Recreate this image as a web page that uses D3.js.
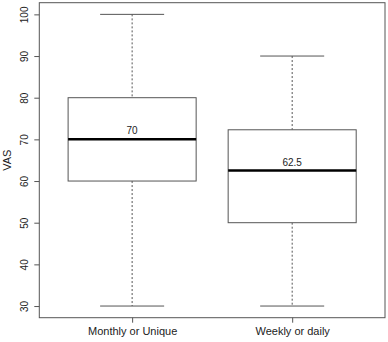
<!DOCTYPE html>
<html>
<head>
<meta charset="utf-8">
<script src="https://cdn.jsdelivr.net/npm/d3@7"></script>
<style>
  body { margin: 0; background: #fff; }
  text { font-family: "Liberation Sans", Arial, sans-serif; fill: #222; }
</style>
</head>
<body>
<svg id="chart"></svg>
<script>
// box plot summaries
const groups = ["Monthly or Unique", "Weekly or daily"];
const lowerWhisker = [30, 30];
const q1 = [60, 50];
const medians = [70, 62.5];
const q3 = [80, 72.3];
const upperWhisker = [100, 90];
const medianLabels = ["70", "62.5"];
const yTicks = [30, 40, 50, 60, 70, 80, 90, 100];

const width = 388, height = 342;
const margin = { top: 2.7, right: 3, bottom: 24.3, left: 39.3 };

const svg = d3.select("#chart").attr("width", width).attr("height", height);

// R-style extended domains
const x = d3.scaleLinear()
  .domain([0.42, 2.58])
  .range([margin.left, width - margin.right]);

const y = d3.scaleLinear()
  .domain([27.2, 102.8])
  .range([height - margin.bottom, margin.top]);

const lineCol = "#555";
const boxHalf = 0.4; // in x units
const capHalf = 0.2;

const data = groups.map((g, i) => ({
  name: g, pos: i + 1,
  lo: lowerWhisker[i], q1: q1[i], med: medians[i], q3: q3[i], hi: upperWhisker[i],
  label: medianLabels[i]
}));

const boxes = svg.append("g").selectAll("g").data(data).join("g");

// whiskers (dashed)
boxes.append("line")
  .attr("x1", d => x(d.pos)).attr("x2", d => x(d.pos))
  .attr("y1", d => y(d.hi)).attr("y2", d => y(d.q3))
  .attr("stroke", lineCol).attr("stroke-dasharray", "2,2");
boxes.append("line")
  .attr("x1", d => x(d.pos)).attr("x2", d => x(d.pos))
  .attr("y1", d => y(d.q1)).attr("y2", d => y(d.lo))
  .attr("stroke", lineCol).attr("stroke-dasharray", "2,2");

// caps
boxes.selectAll(".cap").data(d => [[d.pos, d.hi], [d.pos, d.lo]]).join("line")
  .attr("x1", d => x(d[0] - capHalf)).attr("x2", d => x(d[0] + capHalf))
  .attr("y1", d => y(d[1])).attr("y2", d => y(d[1]))
  .attr("stroke", lineCol);

// box
boxes.append("rect")
  .attr("x", d => x(d.pos - boxHalf))
  .attr("width", d => x(d.pos + boxHalf) - x(d.pos - boxHalf))
  .attr("y", d => y(d.q3))
  .attr("height", d => y(d.q1) - y(d.q3))
  .attr("fill", "white").attr("stroke", lineCol);

// median
boxes.append("line")
  .attr("x1", d => x(d.pos - boxHalf)).attr("x2", d => x(d.pos + boxHalf))
  .attr("y1", d => y(d.med)).attr("y2", d => y(d.med))
  .attr("stroke", "#000").attr("stroke-width", 2.5);

boxes.append("text")
  .attr("x", d => x(d.pos))
  .attr("y", d => y(d.med) - 5)
  .attr("text-anchor", "middle")
  .style("font-size", "10px")
  .text(d => d.label);

// frame
svg.append("rect")
  .attr("x", margin.left).attr("y", margin.top)
  .attr("width", width - margin.right - margin.left)
  .attr("height", height - margin.bottom - margin.top)
  .attr("fill", "none").attr("stroke", lineCol);

// left axis
const yAxis = svg.append("g")
  .attr("transform", `translate(${margin.left},0)`)
  .call(d3.axisLeft(y).tickValues(yTicks).tickSize(5).tickPadding(3));
yAxis.select(".domain").remove();
yAxis.selectAll("line").attr("stroke", lineCol);
yAxis.selectAll("text")
  .style("font-size", "10px")
  .style("font-family", "Liberation Sans, Arial, sans-serif")
  .attr("fill", "#222")
  .attr("transform", "rotate(-90)")
  .attr("x", 0).attr("y", 0)
  .attr("dy", null)
  .attr("text-anchor", "middle")
  .attr("transform", "translate(-11,0) rotate(-90)");

// bottom axis
const xAxis = svg.append("g")
  .attr("transform", `translate(0,${height - margin.bottom})`)
  .call(d3.axisBottom(x).tickValues([1, 2]).tickSize(5).tickPadding(5)
    .tickFormat(d => groups[d - 1]));
xAxis.select(".domain").remove();
xAxis.selectAll("line").attr("stroke", lineCol);
xAxis.selectAll("text")
  .style("font-size", "11px")
  .style("font-family", "Liberation Sans, Arial, sans-serif")
  .attr("fill", "#222");

// y title
svg.append("text")
  .attr("transform", `translate(11,${(margin.top + height - margin.bottom) / 2}) rotate(-90)`)
  .attr("text-anchor", "middle")
  .style("font-size", "11px")
  .text("VAS");
</script>
</body>
</html>
